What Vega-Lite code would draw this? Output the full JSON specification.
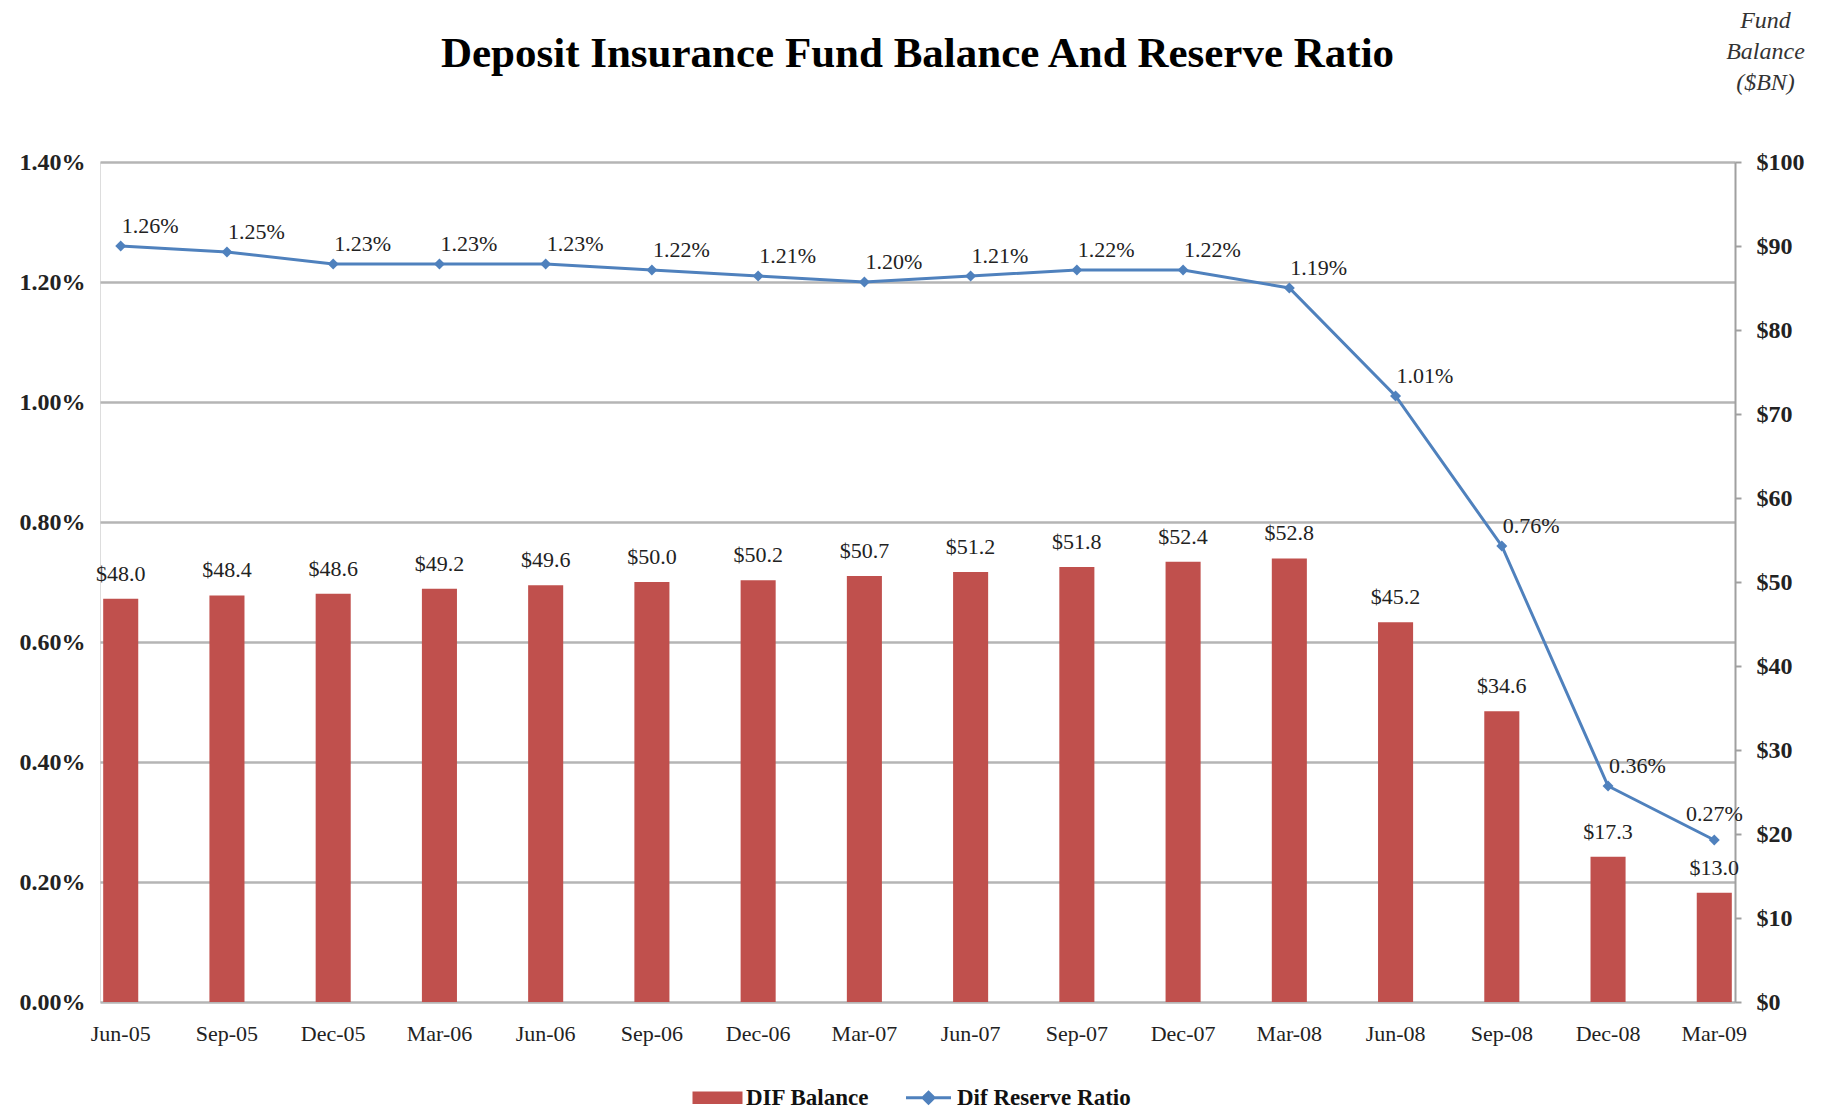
{
  "$schema": "https://vega.github.io/schema/vega-lite/v6.json",
  "width": 1635,
  "height": 840,
  "autosize": "none",
  "padding": {"left": 100, "top": 162, "right": 94, "bottom": 107},
  "background": "white",
  "title": {
    "text": "Deposit Insurance Fund Balance And Reserve Ratio",
    "font": "Liberation Serif",
    "fontSize": 43,
    "fontWeight": "bold",
    "color": "#000000",
    "frame": "group",
    "anchor": "middle",
    "offset": -68
  },
  "data": {
    "values": [
      {"quarter": "Jun-05", "balance": 48.0, "ratio": 0.0126},
      {"quarter": "Sep-05", "balance": 48.4, "ratio": 0.0125},
      {"quarter": "Dec-05", "balance": 48.6, "ratio": 0.0123},
      {"quarter": "Mar-06", "balance": 49.2, "ratio": 0.0123},
      {"quarter": "Jun-06", "balance": 49.6, "ratio": 0.0123},
      {"quarter": "Sep-06", "balance": 50.0, "ratio": 0.0122},
      {"quarter": "Dec-06", "balance": 50.2, "ratio": 0.0121},
      {"quarter": "Mar-07", "balance": 50.7, "ratio": 0.0120},
      {"quarter": "Jun-07", "balance": 51.2, "ratio": 0.0121},
      {"quarter": "Sep-07", "balance": 51.8, "ratio": 0.0122},
      {"quarter": "Dec-07", "balance": 52.4, "ratio": 0.0122},
      {"quarter": "Mar-08", "balance": 52.8, "ratio": 0.0119},
      {"quarter": "Jun-08", "balance": 45.2, "ratio": 0.0101},
      {"quarter": "Sep-08", "balance": 34.6, "ratio": 0.0076},
      {"quarter": "Dec-08", "balance": 17.3, "ratio": 0.0036},
      {"quarter": "Mar-09", "balance": 13.0, "ratio": 0.0027}
    ]
  },
  "encoding": {
    "x": {
      "field": "quarter",
      "type": "ordinal",
      "sort": null,
      "scale": {"paddingInner": 0.67, "paddingOuter": 0.03},
      "axis": {
        "title": null,
        "labelAngle": 0,
        "ticks": false,
        "domain": false,
        "grid": false,
        "labelFont": "Liberation Serif",
        "labelFontSize": 22,
        "labelColor": "#222222",
        "labelPadding": 21
      }
    }
  },
  "layer": [
    {
      "encoding": {
        "y": {
          "field": "balance",
          "type": "quantitative",
          "scale": {"domain": [0, 100]},
          "axis": {
            "orient": "right",
            "values": [0, 10, 20, 30, 40, 50, 60, 70, 80, 90, 100],
            "format": "$.0f",
            "grid": false,
            "domain": true,
            "domainColor": "#a0a0a0",
            "domainWidth": 2,
            "ticks": true,
            "tickColor": "#a0a0a0",
            "tickSize": 6,
            "tickWidth": 2,
            "labelFont": "Liberation Serif",
            "labelFontSize": 24,
            "labelFontWeight": "bold",
            "labelColor": "#222222",
            "labelPadding": 15,
            "title": ["Fund", "Balance", "($BN)"],
            "titleAngle": 0,
            "titleX": 30,
            "titleY": -154,
            "titleAlign": "center",
            "titleBaseline": "top",
            "titleFont": "Liberation Serif",
            "titleFontStyle": "italic",
            "titleFontWeight": "normal",
            "titleFontSize": 24,
            "titleLineHeight": 31,
            "titleColor": "#333333"
          }
        }
      },
      "layer": [
        {
          "mark": {"type": "bar"},
          "encoding": {
            "color": {
              "datum": "DIF Balance",
              "scale": {"domain": ["DIF Balance", "Dif Reserve Ratio"], "range": ["#C0504D", "#4F81BD"]},
              "legend": {
                "orient": "none",
                "legendX": 606,
                "legendY": 924,
                "direction": "horizontal",
                "title": null,
                "labelFont": "Liberation Serif",
                "labelFontSize": 23,
                "labelFontWeight": "bold",
                "labelColor": "#111111",
                "labelLimit": 400,
                "symbolSize": 2500,
                "symbolOpacity": 1,
                "columnPadding": 30,
                "labelOffset": 17,
                "encode": {
                  "symbols": {
                    "update": {
                      "shape": {"signal": "datum.value === 'DIF Balance' ? 'M-1,-0.25H1V0.25H-1Z' : 'M-0.9,0H0.9M0,-0.22L0.22,0L0,0.22L-0.22,0Z'"},
                      "fill": {"signal": "datum.value === 'DIF Balance' ? '#C0504D' : '#4F81BD'"},
                      "stroke": {"signal": "datum.value === 'DIF Balance' ? '#C0504D' : '#4F81BD'"},
                      "strokeWidth": {"signal": "datum.value === 'DIF Balance' ? 0 : 3"},
                      "opacity": {"value": 1}
                    }
                  }
                }
              }
            }
          }
        },
        {
          "mark": {"type": "text", "baseline": "middle", "dy": -25, "font": "Liberation Serif", "fontSize": 22, "color": "#222222"},
          "encoding": {
            "text": {"field": "balance", "type": "quantitative", "format": "$.1f"}
          }
        }
      ]
    },
    {
      "encoding": {
        "y": {
          "field": "ratio",
          "type": "quantitative",
          "scale": {"domain": [0, 0.014]},
          "axis": {
            "orient": "left",
            "values": [0, 0.002, 0.004, 0.006, 0.008, 0.01, 0.012, 0.014],
            "format": ".2%",
            "grid": true,
            "gridColor": "#b5b5b5",
            "gridWidth": 2.5,
            "domain": false,
            "ticks": false,
            "labelFont": "Liberation Serif",
            "labelFontSize": 24,
            "labelFontWeight": "bold",
            "labelColor": "#222222",
            "labelPadding": 15,
            "title": null
          }
        }
      },
      "layer": [
        {
          "mark": {"type": "line", "strokeWidth": 3, "point": {"shape": "diamond", "size": 120, "filled": true}},
          "encoding": {
            "color": {"datum": "Dif Reserve Ratio"}
          }
        },
        {
          "transform": [{"filter": "datum.quarter !== 'Mar-09'"}],
          "mark": {"type": "text", "align": "left", "baseline": "middle", "dx": 1, "dy": -20, "font": "Liberation Serif", "fontSize": 22, "color": "#222222"},
          "encoding": {
            "text": {"field": "ratio", "type": "quantitative", "format": ".2%"}
          }
        },
        {
          "transform": [{"filter": "datum.quarter === 'Mar-09'"}],
          "mark": {"type": "text", "align": "center", "baseline": "middle", "dy": -26, "font": "Liberation Serif", "fontSize": 22, "color": "#222222"},
          "encoding": {
            "text": {"field": "ratio", "type": "quantitative", "format": ".2%"}
          }
        }
      ]
    }
  ],
  "resolve": {"scale": {"y": "independent"}}
}
